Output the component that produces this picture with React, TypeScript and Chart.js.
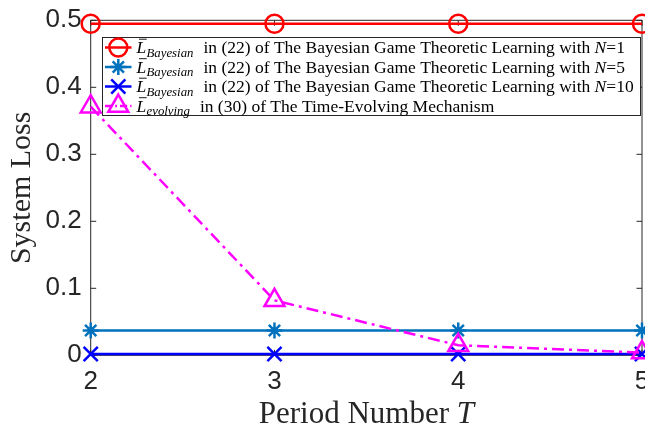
import React, { useEffect, useRef } from "react";
import { Chart, registerables } from "chart.js";

Chart.register(...registerables);

// ---- data ----
const periods = [2, 3, 4, 5];
const lossN1 = [0.495, 0.495, 0.495, 0.495];
const lossN5 = [0.037, 0.037, 0.037, 0.037];
const lossN10 = [0.002, 0.002, 0.002, 0.002];
const lossEvolving = [0.371, 0.082, 0.015, 0.004];
const xTickValues = [2, 3, 4, 5];
const yTickValues = [0, 0.1, 0.2, 0.3, 0.4, 0.5];
const yTickLabels = ["0", "0.1", "0.2", "0.3", "0.4", "0.5"];

const legendSubs = ["Bayesian", "Bayesian", "Bayesian", "evolving"];
const legendTexts = [
  "in (22) of The Bayesian Game Theoretic Learning with ",
  "in (22) of The Bayesian Game Theoretic Learning with ",
  "in (22) of The Bayesian Game Theoretic Learning with ",
  "in (30) of The Time-Evolving Mechanism",
];
const legendN = ["1", "5", "10", ""];

const colors = ["#FF0000", "#0072BD", "#0000FF", "#FF00FF"];
const markers = ["circle", "star", "crossRot", "triangle"];
const markerRadius = [9, 8, 10, 11.5];
const dashes: number[][] = [[], [], [], [12, 5, 3, 5]];

const AXIS = "#262626";
const SERIF = "'Liberation Serif', 'Times New Roman', serif";
const SANS = "'Liberation Sans', Arial, Helvetica, sans-serif";

const CANVAS_W = 700;
const PLOT_RIGHT = 642;

function drawMarker(ctx: CanvasRenderingContext2D, style: string, x: number, y: number, r: number) {
  ctx.beginPath();
  if (style === "circle") {
    ctx.arc(x, y, r, 0, Math.PI * 2);
  } else if (style === "triangle") {
    let a = -Math.PI / 2;
    for (let i = 0; i < 3; i++) {
      const px = x + Math.cos(a) * r;
      const py = y + Math.sin(a) * r;
      if (i === 0) ctx.moveTo(px, py);
      else ctx.lineTo(px, py);
      a += (2 * Math.PI) / 3;
    }
    ctx.closePath();
  } else if (style === "star") {
    ctx.moveTo(x, y - r); ctx.lineTo(x, y + r);
    ctx.moveTo(x - r, y); ctx.lineTo(x + r, y);
    const d = r * Math.SQRT1_2;
    ctx.moveTo(x - d, y - d); ctx.lineTo(x + d, y + d);
    ctx.moveTo(x - d, y + d); ctx.lineTo(x + d, y - d);
  } else if (style === "crossRot") {
    const d = r * Math.SQRT1_2;
    ctx.moveTo(x - d, y - d); ctx.lineTo(x + d, y + d);
    ctx.moveTo(x - d, y + d); ctx.lineTo(x + d, y - d);
  }
  ctx.stroke();
}

const framePlugin = {
  id: "frame",
  beforeDatasetsDraw(chart: any) {
    const { ctx, chartArea } = chart;
    const { left, right, top, bottom } = chartArea;
    const xs = chart.scales.x;
    const ys = chart.scales.y;
    ctx.save();
    ctx.strokeStyle = AXIS;
    ctx.lineWidth = 1;
    ctx.strokeRect(left, top, right - left, bottom - top);
    const tl = 5.5;
    ctx.beginPath();
    xTickValues.forEach((v) => {
      const px = xs.getPixelForValue(v);
      ctx.moveTo(px, bottom); ctx.lineTo(px, bottom - tl);
      ctx.moveTo(px, top); ctx.lineTo(px, top + tl);
    });
    yTickValues.forEach((v) => {
      const py = ys.getPixelForValue(v);
      ctx.moveTo(left, py); ctx.lineTo(left + tl, py);
      ctx.moveTo(right, py); ctx.lineTo(right - tl, py);
    });
    ctx.stroke();
    ctx.restore();
  },
  afterDraw(chart: any) {
    const { ctx, chartArea } = chart;
    const { left, right, top, bottom } = chartArea;
    ctx.save();
    // axis titles
    ctx.fillStyle = AXIS;
    ctx.textBaseline = "alphabetic";
    const xt1 = "Period Number ";
    const xt2 = "T";
    ctx.font = `31px ${SERIF}`;
    const w1 = ctx.measureText(xt1).width;
    ctx.font = `italic 31px ${SERIF}`;
    const w2 = ctx.measureText(xt2).width;
    const cx = (left + right) / 2;
    const sx = cx - (w1 + w2) / 2;
    ctx.font = `31px ${SERIF}`;
    ctx.textAlign = "left";
    ctx.fillText(xt1, sx, 422.5);
    ctx.font = `italic 31px ${SERIF}`;
    ctx.fillText(xt2, sx + w1, 422.5);

    ctx.save();
    ctx.translate(30, (top + bottom) / 2);
    ctx.rotate(-Math.PI / 2);
    ctx.font = `30px ${SERIF}`;
    ctx.textAlign = "center";
    ctx.fillText("System Loss", 0, 0);
    ctx.restore();

    // legend
    const lx0 = 102.5, ly0 = 37.5, lx1 = 640.5, ly1 = 115.5;
    ctx.fillStyle = "#FFFFFF";
    ctx.fillRect(lx0, ly0, lx1 - lx0, ly1 - ly0);
    ctx.strokeStyle = AXIS;
    ctx.lineWidth = 1;
    ctx.strokeRect(lx0, ly0, lx1 - lx0, ly1 - ly0);

    const fs = 17.5;
    const sfs = 12.8;
    for (let i = 0; i < 4; i++) {
      const cy = 47.5 + i * 19.5;
      ctx.strokeStyle = colors[i];
      ctx.lineWidth = 2.5;
      ctx.setLineDash(dashes[i].map((d) => d * 0.6));
      ctx.beginPath();
      ctx.moveTo(105, cy);
      ctx.lineTo(131.5, cy);
      ctx.stroke();
      ctx.setLineDash([]);
      drawMarker(ctx, markers[i], 118.3, cy, markerRadius[i]);

      const base = cy + 5.5;
      let x = 136.5;
      ctx.fillStyle = "#000";
      ctx.textAlign = "left";
      ctx.font = `italic ${fs}px ${SERIF}`;
      ctx.fillText("L", x, base);
      const wL = ctx.measureText("L").width;
      ctx.strokeStyle = "#000";
      ctx.lineWidth = 0.9;
      ctx.beginPath();
      ctx.moveTo(x + 2.5, base - 13.8);
      ctx.lineTo(x + wL + 0.5, base - 13.8);
      ctx.stroke();
      x += wL + 0.3;
      ctx.font = `italic ${sfs}px ${SERIF}`;
      ctx.fillText(legendSubs[i], x, base + 3.5);
      x += ctx.measureText(legendSubs[i]).width + 10;
      ctx.font = `${fs}px ${SERIF}`;
      ctx.fillText(legendTexts[i], x, base);
      x += ctx.measureText(legendTexts[i]).width;
      if (legendN[i]) {
        ctx.font = `italic ${fs}px ${SERIF}`;
        ctx.fillText("N", x, base);
        x += ctx.measureText("N").width;
        ctx.font = `${fs}px ${SERIF}`;
        ctx.fillText("=" + legendN[i], x, base);
      }
    }
    ctx.restore();
  },
};

export default function App() {
  const ref = useRef<HTMLCanvasElement>(null);
  useEffect(() => {
    if (!ref.current) return;
    const series = [lossN1, lossN5, lossN10, lossEvolving];
    const orders = [3, 2, 1, 0];
    const chart = new Chart(ref.current, {
      type: "line",
      data: {
        datasets: series.map((s, i) => ({
          label: "s" + i,
          data: periods.map((p, j) => ({ x: p, y: s[j] })),
          borderColor: colors[i],
          backgroundColor: "transparent",
          borderWidth: 2.5,
          borderDash: dashes[i],
          pointStyle: markers[i] as any,
          pointRadius: markerRadius[i],
          pointHoverRadius: markerRadius[i],
          pointBorderWidth: 2.5,
          pointBorderColor: colors[i],
          pointBackgroundColor: "transparent",
          fill: false,
          tension: 0,
          clip: false as any,
          order: orders[i],
        })),
      },
      options: {
        responsive: false,
        animation: false,
        events: [],
        layout: { padding: { left: 0, top: 20.3, right: CANVAS_W - PLOT_RIGHT, bottom: 0 } },
        plugins: { legend: { display: false }, tooltip: { enabled: false }, title: { display: false } },
        scales: {
          x: {
            type: "linear",
            min: 2,
            max: 5,
            grid: { display: false, drawTicks: false },
            border: { display: false },
            afterBuildTicks: (s: any) => {
              s.ticks = xTickValues.map((v) => ({ value: v }));
            },
            afterFit: (s: any) => {
              s.height = 73.7;
              s.paddingLeft = 0;
              s.paddingRight = 0;
            },
            ticks: {
              color: AXIS,
              font: { family: SANS, size: 26 },
              padding: 11,
              maxRotation: 0,
              autoSkip: false,
              callback: (v: any) => String(v),
            },
          },
          y: {
            type: "linear",
            min: 0,
            max: 0.5,
            grid: { display: false, drawTicks: false },
            border: { display: false },
            afterBuildTicks: (s: any) => {
              s.ticks = yTickValues.map((v) => ({ value: v }));
            },
            afterFit: (s: any) => {
              s.width = 90.7;
              s.paddingTop = 0;
              s.paddingBottom = 0;
            },
            ticks: {
              color: AXIS,
              font: { family: SANS, size: 26 },
              padding: 9,
              autoSkip: false,
              callback: (v: any) => {
                const idx = yTickValues.findIndex((t) => Math.abs(t - v) < 1e-9);
                return idx >= 0 ? yTickLabels[idx] : "";
              },
            },
          },
        },
      },
      plugins: [framePlugin],
    });
    return () => chart.destroy();
  }, []);
  return (
    <div style={{ position: "fixed", left: 0, top: 0, width: 645, height: 429, overflow: "hidden", background: "#fff" }}>
      <canvas ref={ref} width={CANVAS_W} height={429} style={{ display: "block" }} />
    </div>
  );
}
